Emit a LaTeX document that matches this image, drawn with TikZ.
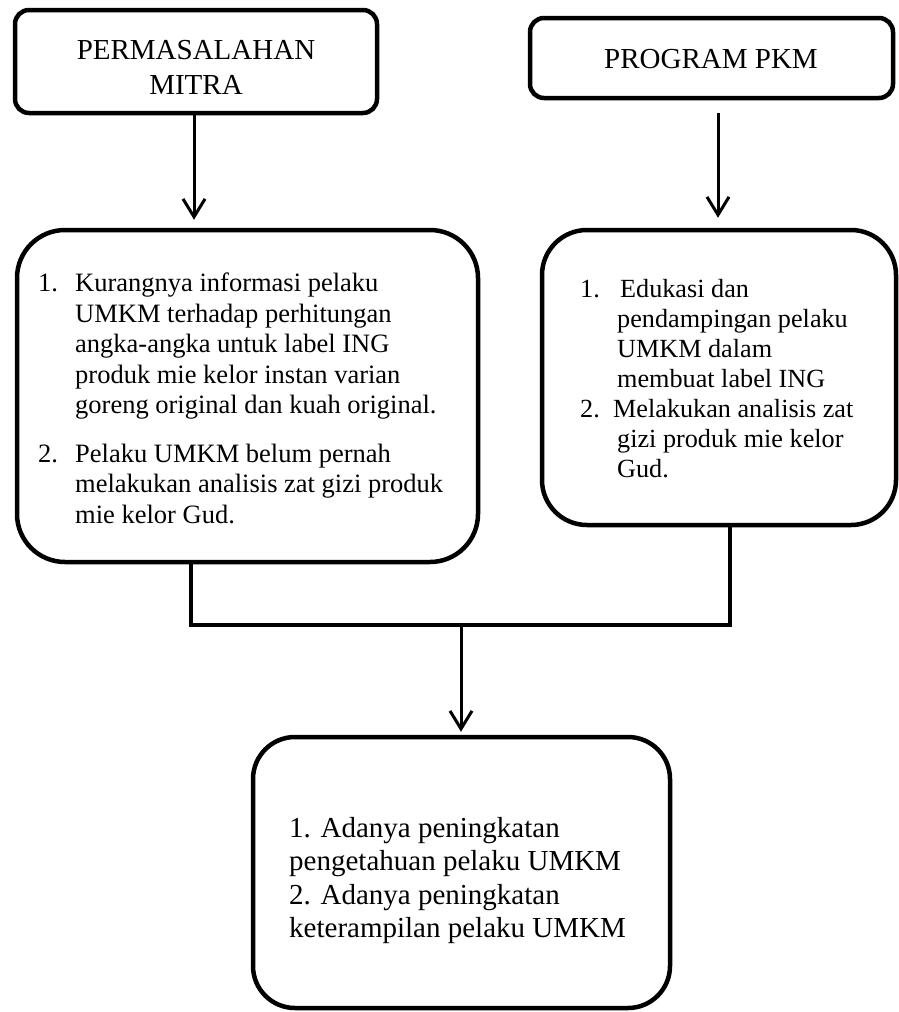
\documentclass[tikz,border=0pt]{standalone}
\usepackage{fontspec}
\setmainfont{Liberation Serif}
\usetikzlibrary{arrows.meta}
\tikzset{
  box/.style={draw, line width=4.5pt, rectangle, inner sep=0pt},
  arr/.style={line width=3pt, -{Straight Barb[length=18pt,width=22pt]}},
  link/.style={line width=3.3pt},
  txt/.style={inner sep=0pt, align=left, anchor=north west},
}
\newcommand{\ind}[1]{\makebox[#1][l]{}}
\begin{document}
\begin{tikzpicture}[x=1pt,y=-1pt]
\useasboundingbox (0,0) rectangle (899,1012);
% boxes
\node[box, rounded corners=14pt, minimum width=362pt, minimum height=103pt] (b1) at (196,61.5) {};
\node[box, rounded corners=14pt, minimum width=363pt, minimum height=80pt] (b2) at (711.5,58) {};
\node[box, rounded corners=48pt, minimum width=461pt, minimum height=332pt] (b3) at (247.5,396) {};
\node[box, rounded corners=45pt, minimum width=354pt, minimum height=295pt] (b4) at (719,377.5) {};
\node[box, rounded corners=42pt, minimum width=417pt, minimum height=271pt] (b5) at (461.5,872.5) {};
% titles
\node[inner sep=0pt, align=center, font={\fontsize{29}{35}\selectfont}] (t1) at (196,67) {PERMASALAHAN\\MITRA};
\node[inner sep=0pt, font={\fontsize{29}{35}\selectfont}] (t2) at (711,59) {PROGRAM PKM};
% box texts
\node[txt, font={\fontsize{26.5}{30.4}\selectfont}] (x3) at (38,273) {%
\makebox[37pt][l]{1.}Kurangnya informasi pelaku\\
\ind{37pt}UMKM terhadap perhitungan\\
\ind{37pt}angka-angka untuk label ING\\
\ind{37pt}produk mie kelor instan varian\\
\ind{37pt}goreng original dan kuah original.\\[18.6pt]
\makebox[37pt][l]{2.}Pelaku UMKM belum pernah\\
\ind{37pt}melakukan analisis zat gizi produk\\
\ind{37pt}mie kelor Gud.};
\node[txt, font={\fontsize{26.2}{30.1}\selectfont}] (x4) at (580,279) {%
\makebox[40pt][l]{1.}Edukasi dan\\
\ind{37pt}pendampingan pelaku\\
\ind{37pt}UMKM dalam\\
\ind{37pt}membuat label ING\\
\makebox[33pt][l]{2.}Melakukan analisis zat\\
\ind{37pt}gizi produk mie kelor\\
\ind{37pt}Gud.};
\node[txt, font={\fontsize{29}{33.5}\selectfont}] (x5) at (289,817) {%
1. Adanya peningkatan\\
pengetahuan pelaku UMKM\\
2. Adanya peningkatan\\
keterampilan pelaku UMKM};
% connectors
\coordinate (jl) at (191,625);
\coordinate (jr) at (730,625);
\coordinate (j) at (461,625);
\draw[arr, shorten >=8pt] ([xshift=-2pt]b1.south) -- ([xshift=-2pt]b1.south |- b3.north);
\draw[arr, shorten <=13pt, shorten >=10pt] ([xshift=6.5pt]b2.south) -- ([xshift=6.5pt]b2.south |- b4.north);
\draw[link] (b3.south -| jl) -- (jl) -- (jr) -- (b4.south -| jr);
\draw[arr, shorten >=3pt] (j) -- (b5.north -| j);
\end{tikzpicture}
\end{document}
